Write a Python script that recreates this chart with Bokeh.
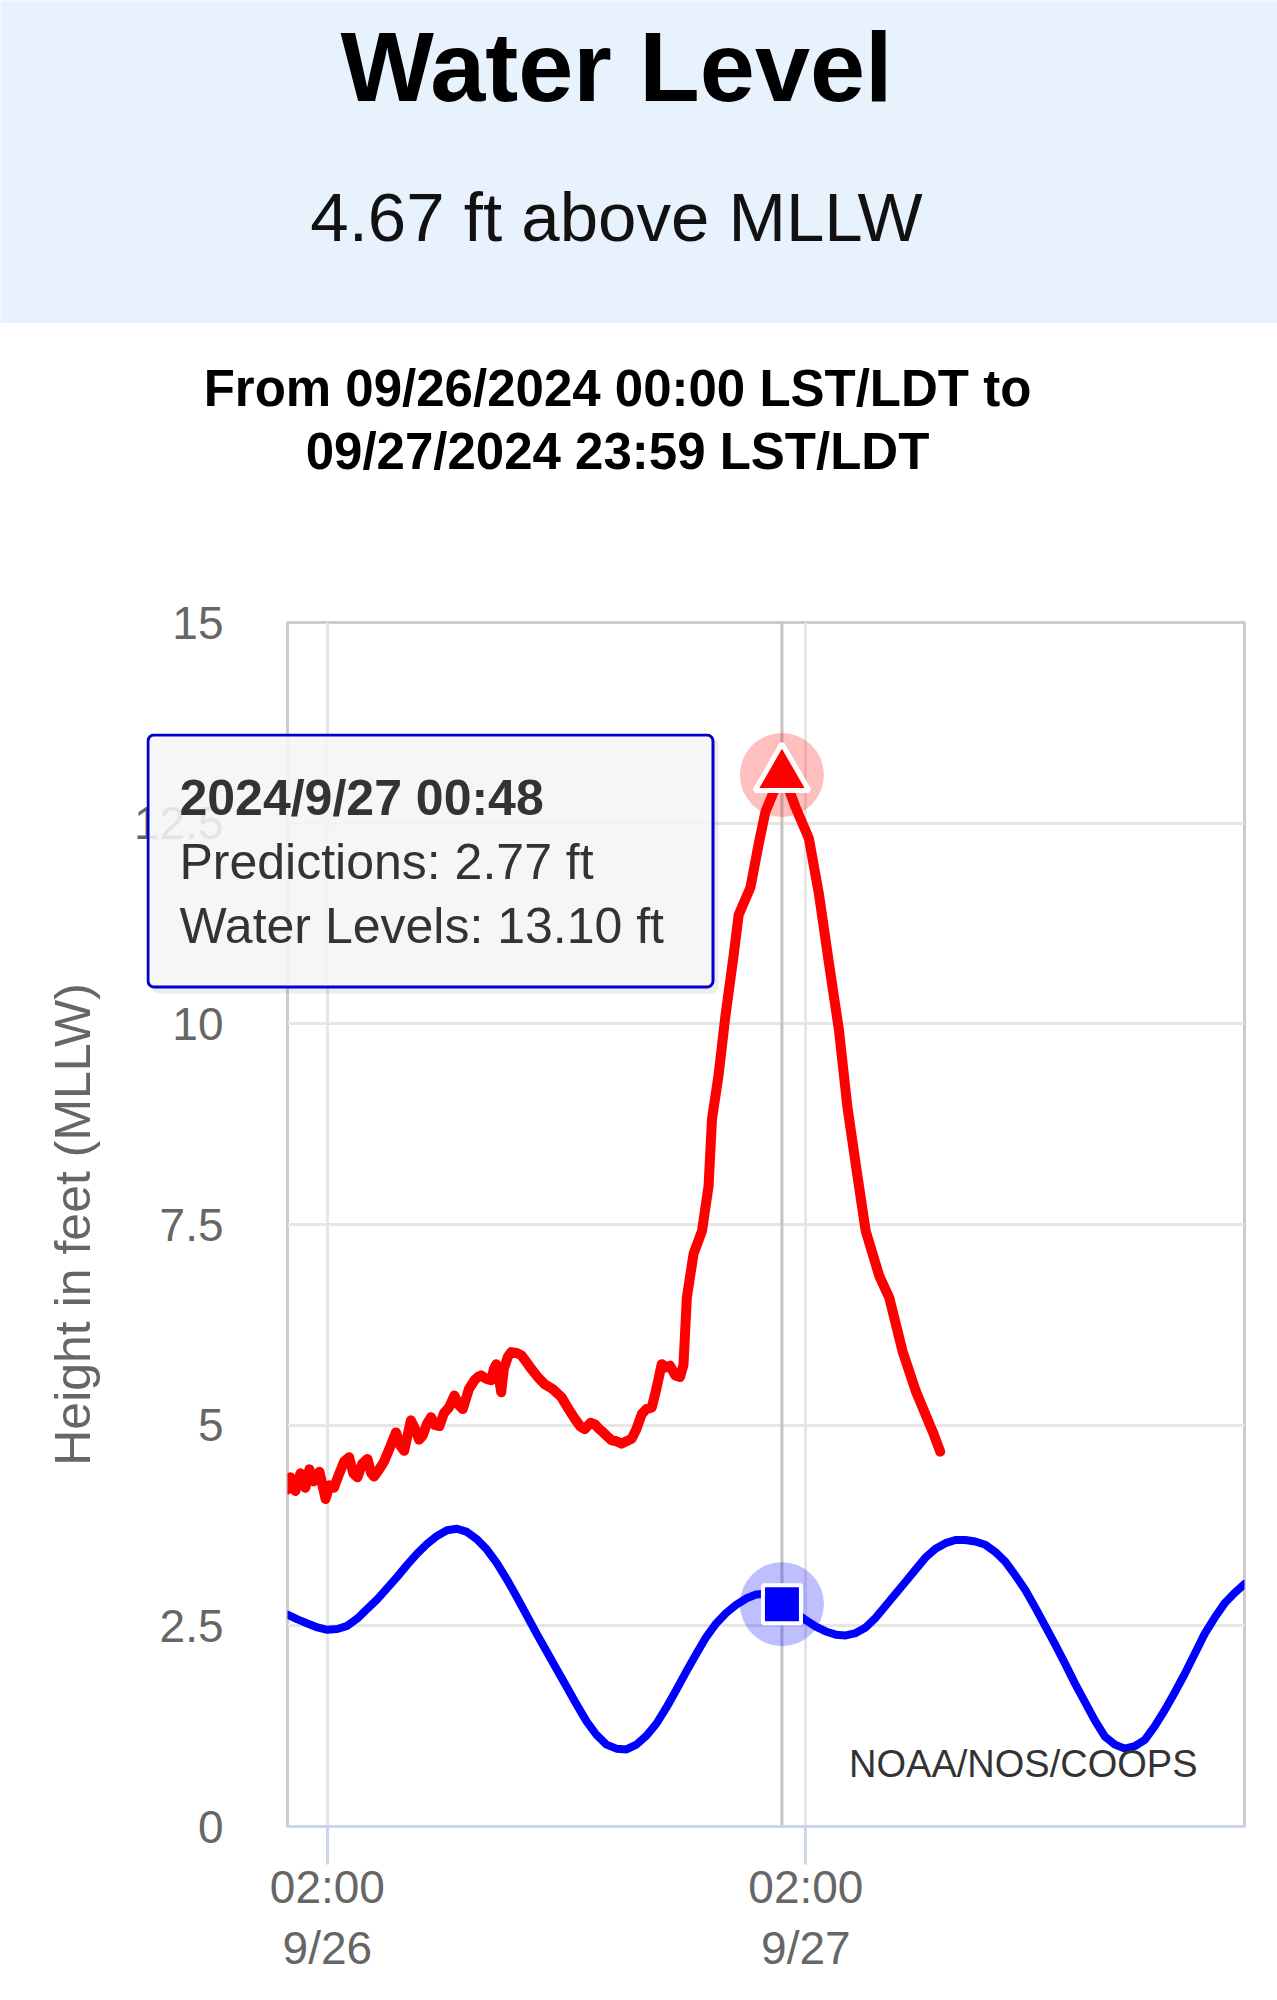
import pandas as pd
from bokeh.plotting import figure
from bokeh.models import Range1d, FixedTicker, Span, BoxAnnotation, Label
from bokeh.core.properties import value
from bokeh.embed import file_html
from bokeh.resources import INLINE

FONT = "Liberation Sans"

# ---------------- texts ----------------
title_text = "Water Level"
current_text = "4.67 ft above MLLW"
range_lines = ["From 09/26/2024 00:00 LST/LDT to", "09/27/2024 23:59 LST/LDT"]
y_axis_title = "Height in feet (MLLW)"
credits_text = "NOAA/NOS/COOPS"

# ---------------- data ----------------
start_time = "2024-09-26 00:00"
end_time = "2024-09-28 00:00"

# Predictions (hours after 09/26 00:00, feet MLLW), read every half hour
pred_hours = [i / 2 for i in range(0, 97)]
pred_values = [2.64, 2.58, 2.53, 2.48, 2.45, 2.46, 2.50, 2.59, 2.71, 2.83,
               2.97, 3.11, 3.26, 3.40, 3.52, 3.62, 3.69, 3.71, 3.67, 3.58,
               3.45, 3.28, 3.08, 2.86, 2.63, 2.40, 2.18, 1.96, 1.74, 1.52,
               1.31, 1.14, 1.02, 0.97, 0.96, 1.02, 1.13, 1.28, 1.48, 1.70,
               1.93, 2.15, 2.36, 2.53, 2.66, 2.76, 2.84, 2.89, 2.90, 2.84,
               2.75, 2.66, 2.57, 2.49, 2.43, 2.39, 2.38, 2.41, 2.48, 2.60,
               2.75, 2.90, 3.05, 3.20, 3.35, 3.46, 3.53, 3.57, 3.57, 3.55,
               3.51, 3.42, 3.30, 3.13, 2.95, 2.73, 2.50, 2.27, 2.03, 1.78,
               1.55, 1.32, 1.12, 1.02, 0.97, 1.00, 1.08, 1.25, 1.45, 1.67,
               1.90, 2.15, 2.40, 2.60, 2.78, 2.91, 3.02]

# Observed water levels (hours after 09/26 00:00, feet MLLW)
obs_hours = [0.0, 0.15, 0.4, 0.65, 0.9, 1.1, 1.32, 1.6, 1.91, 2.1,
             2.33, 2.6, 2.85, 3.09, 3.3, 3.51, 3.75, 4.01, 4.2, 4.34,
             4.6, 4.85, 5.1, 5.44, 5.65, 5.85, 6.0, 6.19, 6.4, 6.6,
             6.78, 7.0, 7.2, 7.4, 7.62, 7.85, 8.1, 8.37, 8.6, 8.79,
             9.1, 9.38, 9.55, 9.71, 9.95, 10.22, 10.35, 10.47, 10.6, 10.72,
             10.85, 11.05, 11.22, 11.5, 11.73, 12.0, 12.23, 12.55, 12.9, 13.3,
             13.74, 14.1, 14.41, 14.7, 14.91, 15.2, 15.42, 15.6, 15.75, 16.0,
             16.26, 16.5, 16.76, 17.0, 17.26, 17.5, 17.77, 18.0, 18.27, 18.5,
             18.77, 19.0, 19.19, 19.45, 19.69, 19.86, 20.03, 20.37, 20.79, 21.12,
             21.29, 21.62, 21.96, 22.38, 22.63, 23.22, 23.64, 23.97, 24.4, 24.8,
             25.1, 25.48, 26.15, 26.66, 27.16, 27.66, 28.08, 28.5, 29.0, 29.68,
             30.18, 30.85, 31.52, 32.36, 32.74]
obs_values = [4.20, 4.35, 4.18, 4.40, 4.22, 4.45, 4.30, 4.42, 4.08, 4.25,
              4.22, 4.40, 4.55, 4.60, 4.40, 4.35, 4.52, 4.58, 4.40, 4.36,
              4.45, 4.55, 4.70, 4.91, 4.75, 4.68, 4.85, 5.06, 4.95, 4.82,
              4.87, 5.02, 5.10, 5.00, 4.99, 5.15, 5.22, 5.37, 5.25, 5.20,
              5.45, 5.56, 5.60, 5.62, 5.58, 5.56, 5.70, 5.76, 5.60, 5.41,
              5.70, 5.85, 5.91, 5.90, 5.87, 5.78, 5.70, 5.60, 5.51, 5.45,
              5.35, 5.20, 5.08, 4.98, 4.95, 5.03, 5.01, 4.96, 4.93, 4.87,
              4.81, 4.80, 4.77, 4.80, 4.83, 4.95, 5.14, 5.20, 5.22, 5.45,
              5.76, 5.72, 5.74, 5.62, 5.60, 5.75, 6.59, 7.14, 7.42, 7.98,
              8.81, 9.36, 10.09, 10.86, 11.36, 11.70, 12.25, 12.64, 12.90, 13.10,
              12.95, 12.70, 12.31, 11.61, 10.75, 9.92, 8.97, 8.25, 7.42, 6.86,
              6.59, 5.92, 5.42, 4.92, 4.67]

x_tick_times = ["2024-09-26 02:00", "2024-09-27 02:00"]
x_tick_labels = ["02:00\n9/26", "02:00\n9/27"]
y_ticks = [0, 2.5, 5, 7.5, 10, 12.5, 15]
y_tick_labels = ["0", "2.5", "5", "7.5", "10", "12.5", "15"]

hover_time = "2024-09-27 00:48"
hover_pred = 2.77
hover_obs = 13.10
tooltip_lines = ["2024/9/27 00:48",
                 "Predictions: %.2f ft" % hover_pred,
                 "Water Levels: %.2f ft" % hover_obs]

# ---------------- helpers ----------------
t0 = pd.Timestamp(start_time)
pred_t = [t0 + pd.Timedelta(hours=h) for h in pred_hours]
obs_t = [t0 + pd.Timedelta(hours=h) for h in obs_hours]


def ms(ts):
    return pd.Timestamp(ts).value / 1e6


PAGE_W = 1277
FW, FH = 957, 1204
BL, BR = 287, 33
X0, X1 = ms(start_time), ms(end_time)
Y0, Y1 = 0, 15
BASE_ADJ = 0.36  # baseline correction (fraction of font size)


def fx(px):  # frame-relative pixel -> data x
    return X0 + px * (X1 - X0) / FW


def fy(py):  # frame-relative pixel (from top) -> data y
    return Y1 - py * (Y1 - Y0) / FH


def text_panel(height, fill):
    f = figure(width=PAGE_W, height=height, x_range=Range1d(0, PAGE_W),
               y_range=Range1d(0, height), output_backend="svg",
               toolbar_location=None, title=None, min_border=0,
               x_axis_location=None, y_axis_location=None)
    f.grid.visible = False
    f.outline_line_color = None
    f.background_fill_color = fill
    f.border_fill_color = fill
    return f


# ---------------- header ----------------
HH = 323
hdr = text_panel(HH, "#e7f2fd")
hdr.text(x=[616], y=[HH - 102 + BASE_ADJ * 99], text=[title_text],
         text_font=value(FONT), text_font_size="99px", text_font_style="bold",
         text_align="center", text_baseline="alphabetic", text_color="#000000")
hdr.text(x=[616], y=[HH - 242 + BASE_ADJ * 69], text=[current_text],
         text_font=value(FONT), text_font_size="69px", text_align="center",
         text_baseline="alphabetic", text_color="#111111")

# ---------------- sub title ----------------
SH = 237
sub = text_panel(SH, "#ffffff")
sub.text(x=[617, 617],
         y=[SH - (406 - HH) + BASE_ADJ * 51, SH - (469 - HH) + BASE_ADJ * 51],
         text=range_lines, text_font=value(FONT), text_font_size="51px",
         text_font_style="bold", text_align="center",
         text_baseline="alphabetic", text_color="#000000")

# ---------------- chart ----------------
p = figure(frame_width=FW, frame_height=FH, x_axis_type="datetime",
           x_range=Range1d(X0, X1), y_range=Range1d(Y0, Y1),
           output_backend="svg", toolbar_location=None, title=None,
           min_border_left=BL, min_border_right=BR, min_border_top=62,
           min_border_bottom=170)
p.outline_line_color = "#cccccc"
p.outline_line_width = 3

# x axis
x_ticks_ms = [ms(t) for t in x_tick_times]
p.xaxis.ticker = FixedTicker(ticks=x_ticks_ms)
p.xaxis.major_label_overrides = {k: v for k, v in zip(x_ticks_ms, x_tick_labels)}
p.xaxis.axis_line_color = "#ccd6eb"
p.xaxis.axis_line_width = 3
p.xaxis.major_tick_line_color = "#ccd6eb"
p.xaxis.major_tick_line_width = 3
p.xaxis.major_tick_out = 38
p.xaxis.major_tick_in = 0
p.xaxis.minor_tick_line_color = None
p.xaxis.major_label_standoff = -4
p.xaxis.major_label_text_font = FONT
p.xaxis.major_label_text_font_size = "46px"
p.xaxis.major_label_text_color = "#666666"
p.xaxis.major_label_text_line_height = 1.18

# y axis
p.yaxis.ticker = FixedTicker(ticks=y_ticks)
p.yaxis.major_label_overrides = {k: v for k, v in zip(y_ticks, y_tick_labels)}
p.yaxis.axis_line_color = None
p.yaxis.major_tick_line_color = None
p.yaxis.minor_tick_line_color = None
p.yaxis.major_tick_out = 0
p.yaxis.major_tick_in = 0
p.yaxis.major_label_standoff = 64
p.yaxis.major_label_text_font = FONT
p.yaxis.major_label_text_font_size = "46px"
p.yaxis.major_label_text_color = "#666666"
p.yaxis.axis_label = y_axis_title
p.yaxis.axis_label_text_font = FONT
p.yaxis.axis_label_text_font_size = "50px"
p.yaxis.axis_label_text_font_style = "normal"
p.yaxis.axis_label_text_color = "#666666"
p.yaxis.axis_label_standoff = 30

p.xgrid.grid_line_color = "#e6e6e6"
p.xgrid.grid_line_width = 3
p.ygrid.grid_line_color = "#e6e6e6"
p.ygrid.grid_line_width = 3

# crosshair
p.add_layout(Span(location=ms(hover_time), dimension="height",
                  line_color="#c4c4c4", line_width=3, level="underlay"))

# series
p.line(pred_t, pred_values, line_color="#0000ff", line_width=8,
       line_join="round", line_cap="round")
p.line(obs_t, obs_values, line_color="#ff0000", line_width=10,
       line_join="round", line_cap="round")

# hover markers
ht = [pd.Timestamp(hover_time)]
p.scatter(ht, [hover_pred], marker="circle", size=84, fill_color="#0000ff",
          fill_alpha=0.25, line_color=None)
p.scatter(ht, [hover_pred], marker="square", size=38, fill_color="#0000ff",
          line_color="#ffffff", line_width=4)
p.scatter(ht, [hover_obs], marker="circle", size=84, fill_color="#ff0000",
          fill_alpha=0.25, line_color=None)
p.scatter(ht, [hover_obs], marker="triangle", size=54, fill_color="#ff0000",
          line_color="#ffffff", line_width=5)

# credits
p.add_layout(Label(x=fx(910), y=fy(1141), text=credits_text, text_font=FONT,
                   text_font_size="38px", text_color="#333333",
                   text_align="right", text_baseline="middle"))

# ---------------- tooltip (overlay) ----------------
TW, TH = 574, 261
tip = figure(width=TW, height=TH, x_range=Range1d(0, TW), y_range=Range1d(0, TH),
             output_backend="svg", toolbar_location=None, title=None,
             min_border=0, x_axis_location=None, y_axis_location=None,
             styles={"position": "absolute", "left": "146px", "top": "733px",
                     "z-index": "10"})
tip.grid.visible = False
tip.outline_line_color = None
tip.background_fill_alpha = 0
tip.border_fill_alpha = 0
tip.add_layout(BoxAnnotation(left=5, right=572, top=TH - 5, bottom=1,
                             fill_color="#000000", fill_alpha=0.07,
                             line_color=None, border_radius=7, level="underlay"))
tip.add_layout(BoxAnnotation(left=1.5, right=566.5, top=TH - 1.5, bottom=TH - 253.5,
                             fill_color="#f7f7f7", fill_alpha=0.88,
                             line_color="#0000cc", line_alpha=1.0, line_width=3,
                             border_radius=6, level="underlay"))
for i, (txt, by) in enumerate(zip(tooltip_lines, [82, 146, 210])):
    tip.text(x=[33], y=[TH - by + BASE_ADJ * 50], text=[txt], text_font=value(FONT),
             text_font_size="50px",
             text_font_style="bold" if i == 0 else "normal",
             text_color="#333333", text_baseline="alphabetic")

open("out.html", "w").write(file_html([hdr, sub, p, tip], INLINE))
